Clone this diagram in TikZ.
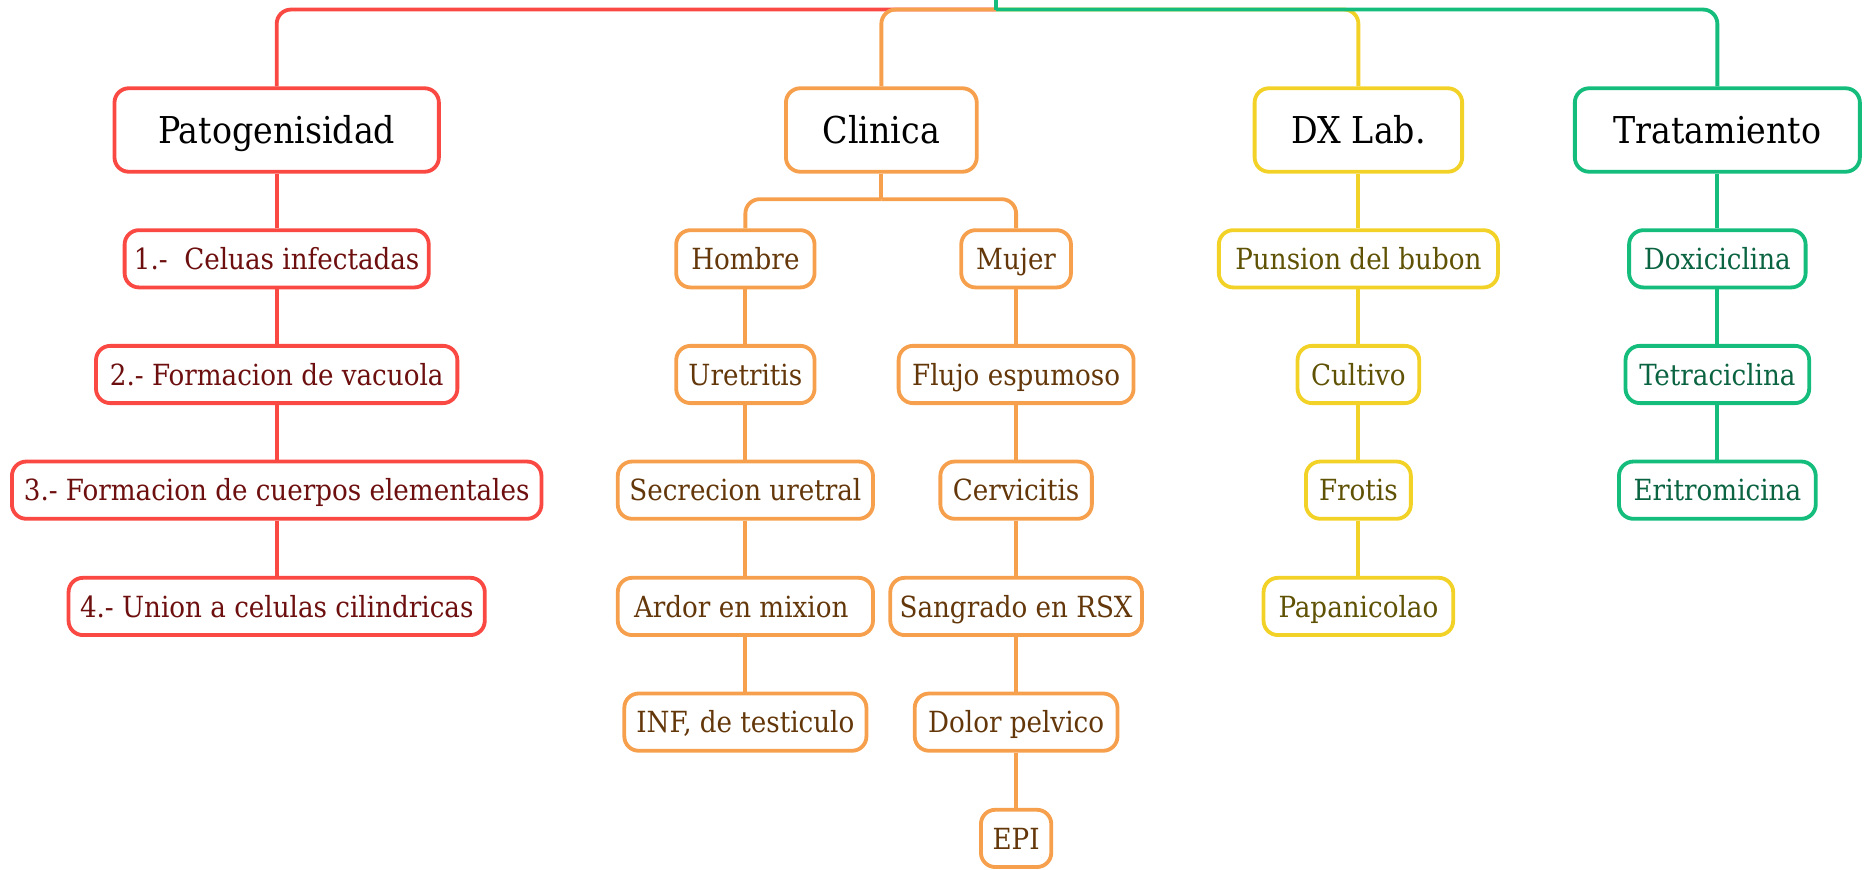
\documentclass[tikz,border=0pt]{standalone}
\usepackage{fontspec}
\setmainfont{DejaVu Serif Condensed}
\definecolor{cR}{RGB}{250,72,66}
\definecolor{cO}{RGB}{246,160,77}
\definecolor{cY}{RGB}{243,210,40}
\definecolor{cG}{RGB}{20,189,124}
\definecolor{tR}{RGB}{110,15,15}
\definecolor{tO}{RGB}{100,55,10}
\definecolor{tY}{RGB}{95,82,5}
\definecolor{tG}{RGB}{10,100,65}
\begin{document}
\begin{tikzpicture}[x=0.5pt,y=-0.5pt,
  box/.style={draw, rounded corners=6pt, line width=1.6pt, fill=white, inner sep=0pt, align=center},
  kw/.style={minimum width=(#1-3)*0.5pt},
  topbox/.style={box, minimum height=35pt, text height=11.3pt, text depth=0pt, font=\fontsize{15.5}{18}\selectfont, text=black},
  kid/.style={box, minimum height=24pt, text height=8.9pt, text depth=0pt, font=\fontsize{12.2}{15}\selectfont},
  redk/.style={kid, draw=cR, text=tR},
  orak/.style={kid, draw=cO, text=tO},
  yelk/.style={kid, draw=cY, text=tY},
  grek/.style={kid, draw=cG, text=tG},
  link/.style={line width=1.6pt},
  corner/.style={link, rounded corners=6pt}]
\useasboundingbox (0,0) rectangle (1568,729);
\coordinate (root) at (835,0);
\coordinate (j) at (835,8);
\coordinate (cj) at (739,167);
% top level
\node[topbox, draw=cR, kw=275] (pat) at (232,109) {Patogenisidad};
\node[topbox, draw=cO, kw=163] (cli) at (739,109) {Clinica};
\node[topbox, draw=cY, kw=177] (dx) at (1139,109) {DX Lab.};
\node[topbox, draw=cG, kw=242] (tra) at (1440,109) {Tratamiento};
% red
\node[redk, kw=258] (r1) at (232,217) {1.-\ \ Celuas infectadas};
\node[redk, kw=306] (r2) at (232,314) {2.- Formacion de vacuola};
\node[redk, kw=447] (r3) at (232,411) {3.- Formacion de cuerpos elementales};
\node[redk, kw=352] (r4) at (232,508.5) {4.- Union a celulas cilindricas};
% orange left
\node[orak, kw=119] (h1) at (625,217) {Hombre};
\node[orak, kw=119] (h2) at (625,314) {Uretritis};
\node[orak, kw=217] (h3) at (625,411) {Secrecion uretral};
\node[orak, kw=217] (h4) at (625,508.5) {Ardor en mixion\ };
\node[orak, kw=206] (h5) at (625,605.5) {INF, de testiculo};
% orange right
\node[orak, kw=95] (m1) at (852,217) {Mujer};
\node[orak, kw=200] (m2) at (852,314) {Flujo espumoso};
\node[orak, kw=130] (m3) at (852,411) {Cervicitis};
\node[orak, kw=214] (m4) at (852,508.5) {Sangrado en RSX};
\node[orak, kw=173] (m5) at (852,605.5) {Dolor pelvico};
\node[orak, kw=62] (m6) at (852,703) {EPI};
% yellow
\node[yelk, kw=237] (y1) at (1139,217) {Punsion del bubon};
\node[yelk, kw=105] (y2) at (1139,314) {Cultivo};
\node[yelk, kw=91] (y3) at (1139,411) {Frotis};
\node[yelk, kw=162] (y4) at (1139,508.5) {Papanicolao};
% green
\node[grek, kw=151] (g1) at (1440,217) {Doxiciclina};
\node[grek, kw=157] (g2) at (1440,314) {Tetraciclina};
\node[grek, kw=168] (g3) at (1440,411) {Eritromicina};
% top connectors
\draw[corner, cR] (j) -| (pat.north);
\draw[corner, cY] (j) -| (dx.north);
\draw[corner, cO] (j) -| (cli.north);
\draw[corner, cG] (j) -| (tra.north);
\draw[link, cG] (root) -- (j);
% red chain
\draw[link, cR] (pat.south) -- (r1.north) (r1.south) -- (r2.north) (r2.south) -- (r3.north) (r3.south) -- (r4.north);
% orange
\draw[link, cO] (cli.south) -- (cj);
\draw[corner, cO] (cj) -| (h1.north);
\draw[corner, cO] (cj) -| (m1.north);
\draw[link, cO] (h1.south) -- (h2.north) (h2.south) -- (h3.north) (h3.south) -- (h4.north) (h4.south) -- (h5.north);
\draw[link, cO] (m1.south) -- (m2.north) (m2.south) -- (m3.north) (m3.south) -- (m4.north) (m4.south) -- (m5.north) (m5.south) -- (m6.north);
% yellow
\draw[link, cY] (dx.south) -- (y1.north) (y1.south) -- (y2.north) (y2.south) -- (y3.north) (y3.south) -- (y4.north);
% green
\draw[link, cG] (tra.south) -- (g1.north) (g1.south) -- (g2.north) (g2.south) -- (g3.north);
\end{tikzpicture}
\end{document}
